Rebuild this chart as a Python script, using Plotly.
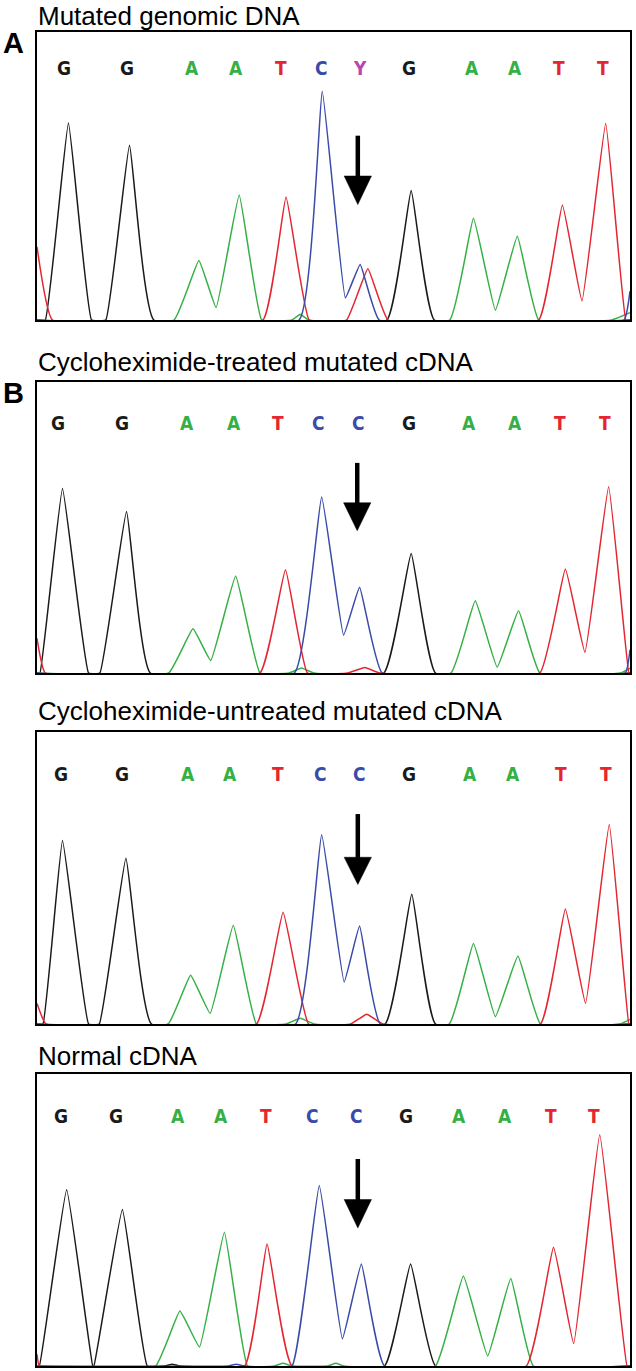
import plotly.graph_objects as go

W, H = 636, 1371

# ---------------- data (scan position 0-1000, signal amplitude 0-1000 per panel) ----------------
titles = ["Mutated genomic DNA", "Cycloheximide-treated mutated cDNA",
          "Cycloheximide-untreated mutated cDNA", "Normal cDNA"]
panel_letters = ["A", "B", "", ""]

# base calls
calls_A = ["G", "G", "A", "A", "T", "C", "Y", "G", "A", "A", "T", "T"]
calls_B = ["G", "G", "A", "A", "T", "C", "C", "G", "A", "A", "T", "T"]
call_pos_A = [46, 151, 262, 336, 411, 480, 545, 627, 733, 806, 880, 954]
call_pos_B1 = [35, 144, 253, 332, 407, 474, 542, 628, 729, 806, 882, 958]
call_pos_B2 = [41, 143, 255, 326, 406, 478, 543, 627, 730, 803, 883, 960]
call_pos_B3 = [40, 134, 238, 311, 386, 465, 539, 623, 711, 790, 866, 939]
call_level = [875, 858, 856, 855]

# trace keypoints: panel A
A_black_x = [0, 14, 53, 92, 116, 156, 197, 590, 631, 670, 1000]
A_black_y = [0, 0, 684, 0, 0, 607, 0, 0, 450, 0, 0]
A_green_x = [0, 231, 273, 302, 341, 379, 430, 444, 458, 696, 736, 773, 810, 846, 969, 1000]
A_green_y = [0, 0, 207, 43, 434, 0, 0, 20, 0, 0, 353, 34, 291, 0, 0, 25]
A_red_x = [0, 26, 381, 420, 459, 522, 558, 592, 846, 886, 919, 959, 993, 1000]
A_red_y = [254, 0, 0, 427, 0, 0, 178, 0, 0, 399, 66, 682, 0, 0]
A_blue_x = [0, 442, 481, 520, 545, 577, 990, 1000]
A_blue_y = [0, 0, 794, 77, 193, 0, 0, 100]

# panel B1 (cycloheximide-treated)
B1_black_x = [0, 5, 43, 87, 106, 151, 191, 585, 631, 672, 1000]
B1_black_y = [0, 0, 634, 0, 0, 555, 0, 0, 411, 0, 0]
B1_green_x = [0, 222, 263, 293, 335, 376, 425, 446, 467, 698, 739, 776, 812, 848, 984, 1000]
B1_green_y = [0, 0, 152, 43, 333, 0, 0, 17, 0, 0, 248, 20, 214, 0, 0, 17]
B1_red_x = [0, 14, 376, 419, 456, 524, 553, 578, 848, 891, 924, 964, 998, 1000]
B1_red_y = [119, 0, 0, 355, 0, 0, 19, 0, 0, 357, 71, 640, 0, 0]
B1_blue_x = [0, 434, 480, 517, 544, 582, 992, 1000]
B1_blue_y = [0, 0, 605, 130, 295, 0, 0, 80]

# panel B2 (cycloheximide-untreated)
B2_black_x = [0, 10, 43, 87, 105, 150, 193, 587, 632, 672, 1000]
B2_black_y = [0, 0, 628, 0, 0, 568, 0, 0, 444, 0, 0]
B2_green_x = [0, 221, 259, 292, 331, 370, 420, 444, 468, 695, 736, 773, 811, 849, 983, 1000]
B2_green_y = [0, 0, 167, 36, 338, 0, 0, 20, 0, 0, 276, 25, 233, 0, 0, 16]
B2_red_x = [0, 15, 370, 415, 458, 529, 556, 584, 849, 891, 925, 965, 998, 1000]
B2_red_y = [70, 0, 0, 383, 0, 0, 33, 0, 0, 394, 71, 683, 0, 0]
B2_blue_x = [0, 436, 480, 518, 544, 579, 1000]
B2_blue_y = [0, 0, 648, 144, 336, 0, 0]

# panel B3 (normal cDNA)
B3_black_x = [0, 4, 50, 94, 96, 144, 186, 215, 228, 241, 586, 630, 672, 1000]
B3_black_y = [0, 0, 604, 0, 0, 536, 0, 0, 6, 0, 0, 349, 0, 0]
B3_green_x = [0, 200, 241, 274, 316, 355, 400, 415, 430, 490, 504, 518, 672, 719, 760, 799, 837, 1000]
B3_green_y = [0, 0, 188, 65, 458, 0, 0, 9, 0, 0, 9, 0, 0, 308, 34, 300, 0, 0]
B3_red_x = [0, 4, 350, 388, 430, 825, 871, 905, 949, 995, 1000]
B3_red_y = [40, 0, 0, 418, 0, 0, 407, 77, 792, 0, 0]
B3_blue_x = [0, 322, 336, 350, 430, 476, 515, 547, 586, 1000]
B3_blue_y = [0, 0, 6, 0, 0, 618, 93, 349, 0, 0]

# arrows: x position, shaft top, head top, tip
arrow_x = [541, 540, 541, 541]
arrow_top = [640, 722, 719, 709]
arrow_head = [500, 585, 571, 570]
arrow_tip = [401, 489, 478, 473]

# ---------------- layout geometry (pixels) ----------------
frames = [(37, 630, 32, 320), (37, 630, 382, 673), (37, 630, 732, 1024), (37, 630, 1074, 1366)]
title_mid = [12, 361, 710, 1055]

COL = {"black": "#1a1a1a", "green": "#35b045", "red": "#e32630", "blue": "#3a4aa8", "magenta": "#b845b0"}
CALL_COL = {"G": COL["black"], "A": COL["green"], "T": COL["red"], "C": COL["blue"], "Y": COL["magenta"]}

panels = [
    dict(black=(A_black_x, A_black_y), green=(A_green_x, A_green_y), red=(A_red_x, A_red_y),
         blue=(A_blue_x, A_blue_y), calls=calls_A, pos=call_pos_A),
    dict(black=(B1_black_x, B1_black_y), green=(B1_green_x, B1_green_y), red=(B1_red_x, B1_red_y),
         blue=(B1_blue_x, B1_blue_y), calls=calls_B, pos=call_pos_B1),
    dict(black=(B2_black_x, B2_black_y), green=(B2_green_x, B2_green_y), red=(B2_red_x, B2_red_y),
         blue=(B2_blue_x, B2_blue_y), calls=calls_B, pos=call_pos_B2),
    dict(black=(B3_black_x, B3_black_y), green=(B3_green_x, B3_green_y), red=(B3_red_x, B3_red_y),
         blue=(B3_blue_x, B3_blue_y), calls=calls_B, pos=call_pos_B3),
]

fig = go.Figure()
annotations = []
layout_axes = {}

for i, p in enumerate(panels):
    n = "" if i == 0 else str(i + 1)
    xa, ya = "x" + n, "y" + n
    x0, x1, y0, y1 = frames[i]
    layout_axes["xaxis" + n] = dict(domain=[x0 / W, x1 / W], range=[0, 1000], anchor=ya,
                                    showticklabels=False, ticks="", showgrid=False, zeroline=False,
                                    showline=True, mirror=True, linecolor="black", linewidth=2,
                                    fixedrange=True)
    layout_axes["yaxis" + n] = dict(domain=[1 - y1 / H, 1 - y0 / H], range=[0, 1000], anchor=xa,
                                    showticklabels=False, ticks="", showgrid=False, zeroline=False,
                                    showline=True, mirror=True, linecolor="black", linewidth=2,
                                    fixedrange=True)
    for cname in ["black", "green", "red", "blue"]:
        xs, ys = p[cname]
        fig.add_trace(go.Scatter(x=xs, y=ys, mode="lines", xaxis=xa, yaxis=ya,
                                 line=dict(color=COL[cname], width=1.5, shape="spline", smoothing=0.3),
                                 showlegend=False, hoverinfo="skip"))
    # arrow
    ax = arrow_x[i]
    fig.add_trace(go.Scatter(x=[ax, ax], y=[arrow_top[i], arrow_head[i] - 5], mode="lines",
                             xaxis=xa, yaxis=ya, line=dict(color="black", width=4.5),
                             showlegend=False, hoverinfo="skip"))
    hw = 23
    fig.add_trace(go.Scatter(x=[ax - hw, ax + hw, ax, ax - hw],
                             y=[arrow_head[i], arrow_head[i], arrow_tip[i], arrow_head[i]],
                             mode="lines", fill="toself", fillcolor="black",
                             xaxis=xa, yaxis=ya, line=dict(color="black", width=0.5),
                             showlegend=False, hoverinfo="skip"))
    # base calls
    for c, xp in zip(p["calls"], p["pos"]):
        annotations.append(dict(x=xp, y=call_level[i], xref=xa, yref=ya, text=c, showarrow=False,
                                xanchor="center", yanchor="middle",
                                font=dict(family="Liberation Sans Narrow, Arial Narrow, DejaVu Sans Condensed, sans-serif",
                                          size=19, color=CALL_COL[c], weight="bold")))
    # title
    if i == 0:
        tpos = dict(y=1.0, yanchor="top")
    else:
        tpos = dict(y=1 - (title_mid[i] + 1) / H, yanchor="middle")
    annotations.append(dict(x=x0 / W, xref="paper", yref="paper", borderpad=0,
                            text=titles[i], showarrow=False, xanchor="left",
                            font=dict(family="Liberation Sans, Arial, sans-serif", size=26, color="black"),
                            **tpos))
    if panel_letters[i]:
        annotations.append(dict(x=13 / W, y=1 - (y0 + 10 + 1) / H, xref="paper", yref="paper",
                                text="<b>" + panel_letters[i] + "</b>", showarrow=False,
                                xanchor="center", yanchor="middle",
                                font=dict(family="Liberation Sans, Arial, sans-serif", size=29, color="black")))

fig.update_layout(width=W, height=H, margin=dict(l=0, r=0, t=0, b=0),
                  paper_bgcolor="white", plot_bgcolor="white",
                  annotations=annotations, **layout_axes)

fig.write_html("out.html", config={"displayModeBar": False},
               post_script="document.body.style.margin='0px';")
